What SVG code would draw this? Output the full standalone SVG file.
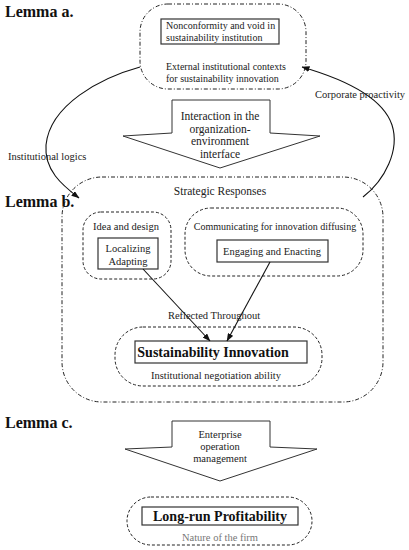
<svg xmlns="http://www.w3.org/2000/svg" width="409" height="550" viewBox="0 0 409 550">
<defs>
<marker id="ah" markerWidth="8" markerHeight="6" refX="7.5" refY="3" orient="auto" markerUnits="userSpaceOnUse">
<path d="M0,0 L8,3 L0,6 Z" fill="#111"/>
</marker>
<style>
text{font-family:"Liberation Serif","Times New Roman",serif;fill:#222;font-size:10.5px}
.lemma{font-size:16px;font-weight:bold;fill:#111}
.big{font-size:14px;font-weight:bold;fill:#111}
.sm{font-size:10px}
.md{font-size:11.5px}
.c{text-anchor:middle}
.dd{fill:none;stroke:#222;stroke-width:1;stroke-dasharray:4,2,1,2}
.da{fill:none;stroke:#222;stroke-width:1;stroke-dasharray:3,2}
.box{fill:#fff;stroke:#333;stroke-width:1.2}
.arr{fill:#fff;stroke:#333;stroke-width:1}
.con{fill:none;stroke:#111;stroke-width:1.1}
</style>
</defs>
<rect width="409" height="550" fill="#fff"/>

<text class="lemma" x="5" y="17">Lemma a.</text>
<text class="lemma" x="5" y="207">Lemma b.</text>
<text class="lemma" x="5" y="428">Lemma c.</text>

<g id="external-context">
<rect class="dd" x="140" y="4" width="166" height="85" rx="28"/>
<rect class="box" x="161" y="19" width="118" height="25"/>
<text class="sm" x="166" y="29">Nonconformity and void in</text>
<text class="sm" x="166" y="41">sustainability institution</text>
<text class="sm" x="166" y="70">External institutional contexts</text>
<text class="sm" x="166" y="82">for sustainability innovation</text>
</g>

<g id="interaction-arrow">
<polygon class="arr" points="172,100 270,100 270,133 320,136 220,168 123,136 172,133"/>
<text class="c md" x="220" y="120">Interaction in the</text>
<text class="c md" x="220" y="132.5">organization-</text>
<text class="c md" x="220" y="145">environment</text>
<text class="c md" x="220" y="157.5">interface</text>
</g>

<g id="strategic-responses">
<rect class="dd" x="62" y="177" width="321" height="225" rx="40"/>
<text class="c md" x="220" y="195">Strategic Responses</text>
</g>

<g id="idea-design">
<rect class="da" x="83" y="212" width="88" height="67" rx="18"/>
<text class="c" x="126" y="230">Idea and design</text>
<rect class="box" x="98" y="238" width="60" height="31"/>
<text class="c" x="128" y="252">Localizing</text>
<text class="c" x="128" y="265">Adapting</text>
</g>

<g id="communicating">
<rect class="da" x="185" y="208" width="178" height="68" rx="26"/>
<text class="c sm" x="275" y="230">Communicating for innovation diffusing</text>
<rect class="box" x="217" y="240" width="111" height="22"/>
<text class="c" x="272" y="255">Engaging and Enacting</text>
</g>

<g id="sustainability-innovation">
<rect class="da" x="115" y="327" width="207" height="59" rx="28"/>
<rect class="box" x="135" y="341" width="172" height="22"/>
<text class="big c" x="213" y="357">Sustainability Innovation</text>
<text class="c" x="216" y="379">Institutional negotiation ability</text>
</g>

<g id="operation-arrow">
<polygon class="arr" points="172,421 270,421 270,447 317,449 220,481 125,449 172,447"/>
<text class="c" x="220" y="438">Enterprise</text>
<text class="c" x="220" y="450">operation</text>
<text class="c" x="220" y="462">management</text>
</g>

<g id="profitability">
<rect class="da" x="127" y="497" width="185" height="48" rx="24"/>
<rect class="box" x="142" y="507" width="156" height="18"/>
<text class="big c" x="220" y="521">Long-run Profitability</text>
<text class="c" x="220" y="541" style="fill:#777">Nature of the firm</text>
</g>

<g id="connectors">
<path class="con" d="M140,67 C100,78 50,105 46,145 C44,170 62,185 79,198" marker-end="url(#ah)"/>
<path class="con" d="M363,197 C385,180 400,150 392,125 C382,95 340,78 302,67" marker-end="url(#ah)"/>
<line class="con" x1="143" y1="269" x2="210" y2="341" marker-end="url(#ah)"/>
<line class="con" x1="270" y1="262" x2="227" y2="341" marker-end="url(#ah)"/>
</g>

<g id="labels">
<text x="8" y="160">Institutional logics</text>
<text x="315" y="98">Corporate proactivity</text>
<text class="c" x="214" y="319">Reflected  Throughout</text>
</g>
</svg>
